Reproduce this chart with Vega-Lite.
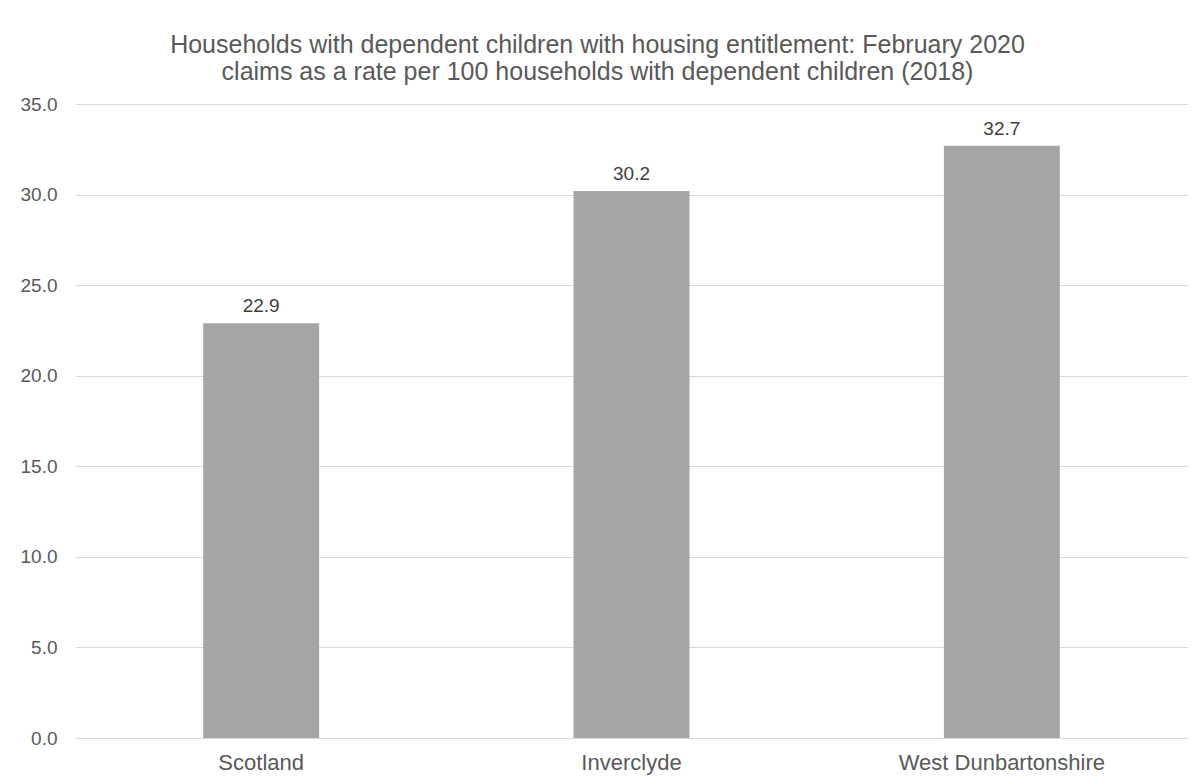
{
  "$schema": "https://vega.github.io/schema/vega-lite/v6.json",
  "autosize": "none",
  "width": 1111,
  "height": 634,
  "padding": {"left": 76, "top": 104, "right": 10, "bottom": 40},
  "background": "white",
  "title": {
    "text": ["Households with dependent children with housing entitlement: February 2020", "claims as a rate per 100 households with dependent children (2018)"],
    "anchor": "middle",
    "dx": -34,
    "offset": 10,
    "font": "Liberation Sans",
    "fontSize": 25,
    "fontWeight": "normal",
    "color": "#595959",
    "lineHeight": 27
  },
  "data": {"values": [
    {"area": "Scotland", "rate": 22.9},
    {"area": "Inverclyde", "rate": 30.2},
    {"area": "West Dunbartonshire", "rate": 32.7}
  ]},
  "encoding": {
    "x": {"field": "area", "type": "nominal", "sort": null, "title": null,
      "scale": {"paddingInner": 0.687, "paddingOuter": 0.3435},
      "axis": {"labelAngle": 0, "labelLimit": 0, "ticks": false, "domain": false, "labelPadding": 14, "labelFont": "Liberation Sans", "labelFontSize": 22, "labelColor": "#595959"}},
    "y": {"field": "rate", "type": "quantitative", "title": null,
      "scale": {"domain": [0, 35]},
      "axis": {"values": [0, 5, 10, 15, 20, 25, 30, 35], "format": ".1f", "ticks": false, "domain": false, "labelPadding": 19, "gridColor": "#d9d9d9", "gridWidth": 1, "labelFont": "Liberation Sans", "labelFontSize": 19, "labelColor": "#595959"}}
  },
  "layer": [
    {"mark": {"type": "bar", "color": "#a5a5a5"}},
    {"mark": {"type": "text", "baseline": "bottom", "dy": -7, "font": "Liberation Sans", "fontSize": 19, "color": "#404040"},
     "encoding": {"text": {"field": "rate", "type": "quantitative", "format": ".1f"}}}
  ],
  "config": {"view": {"stroke": null}}
}
